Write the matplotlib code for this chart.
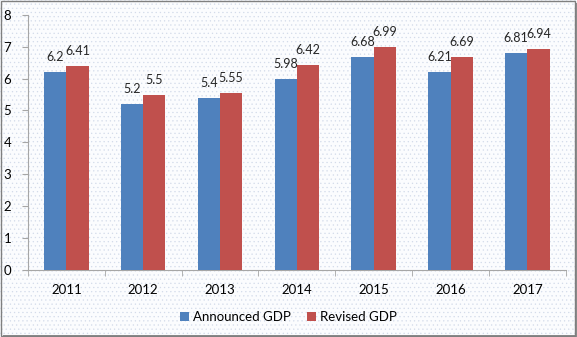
import matplotlib as mpl
import matplotlib.pyplot as plt
import numpy as np
from matplotlib.patches import Rectangle

mpl.rcParams.update({
    "font.family": ["Lato", "DejaVu Sans"],
    "font.size": 9,
    "hatch.linewidth": 0.4,
})

years = ["2011", "2012", "2013", "2014", "2015", "2016", "2017"]
announced = [6.2, 5.2, 5.4, 5.98, 6.68, 6.21, 6.81]
revised = [6.41, 5.5, 5.55, 6.42, 6.99, 6.69, 6.94]
announced_labels = ["6.2", "5.2", "5.4", "5.98", "6.68", "6.21", "6.81"]
revised_labels = ["6.41", "5.5", "5.55", "6.42", "6.99", "6.69", "6.94"]

blue = "#4F81BD"
red = "#C0504D"
grey = "#a6a6a6"

fig = plt.figure(figsize=(5.77, 3.37), dpi=100)
fig.patch.set_facecolor("white")

# dotted background like the Excel chart area
bg = Rectangle((0, 0), 1, 1, transform=fig.transFigure, facecolor="#fbfcfe",
               edgecolor="#d3dbea", hatch="....", linewidth=0, zorder=-10)
fig.patches.append(bg)

# figure border with slight shadow on right / bottom
fig.patches.append(Rectangle((0.002, 0.004), 0.994, 0.992, transform=fig.transFigure,
                             fill=False, edgecolor="#7f7f7f", linewidth=1.0, zorder=10))
fig.patches.append(Rectangle((0.006, 0.0), 0.994, 0.006, transform=fig.transFigure,
                             facecolor="#8c8c8c", edgecolor="none", zorder=9))
fig.patches.append(Rectangle((0.996, 0.0), 0.004, 0.99, transform=fig.transFigure,
                             facecolor="#8c8c8c", edgecolor="none", zorder=9))

ax = fig.add_axes([0.0485, 0.199, 0.932, 0.757])
ax.patch.set_alpha(0)

x = np.arange(len(years))
w = 0.29
ax.bar(x - w / 2, announced, w, color=blue, label="Announced GDP", zorder=3)
ax.bar(x + w / 2, revised, w, color=red, label="Revised GDP", zorder=3)

for xi, v, t in zip(x, announced, announced_labels):
    ax.text(xi - w / 2, v + 0.28, t, ha="center", va="bottom", fontsize=9, color="#262626")
for xi, v, t in zip(x, revised, revised_labels):
    ax.text(xi + w / 2, v + 0.28, t, ha="center", va="bottom", fontsize=9, color="#262626")

ax.set_xlim(-0.5, len(years) - 0.5)
ax.set_ylim(0, 8)
ax.set_yticks(range(0, 9))
ax.set_xticks(x)
ax.set_xticklabels(years, fontsize=9.5)
ax.set_xticks(np.arange(-0.5, len(years)), minor=True)
ax.tick_params(axis="x", which="major", length=0, pad=10)
ax.tick_params(axis="x", which="minor", length=4, color=grey, direction="out")
ax.tick_params(axis="y", length=4, color=grey, direction="out", labelsize=9.5, pad=8)
for s in ["top", "right"]:
    ax.spines[s].set_visible(False)
for s in ["left", "bottom"]:
    ax.spines[s].set_color(grey)
    ax.spines[s].set_linewidth(0.8)

fig.legend(loc="lower center", bbox_to_anchor=(0.5, 0.005), ncol=2, frameon=False,
           handlelength=0.7, handleheight=0.7, handletextpad=0.3, columnspacing=1.2,
           fontsize=9.5)

fig.savefig("out.png", dpi=100)
